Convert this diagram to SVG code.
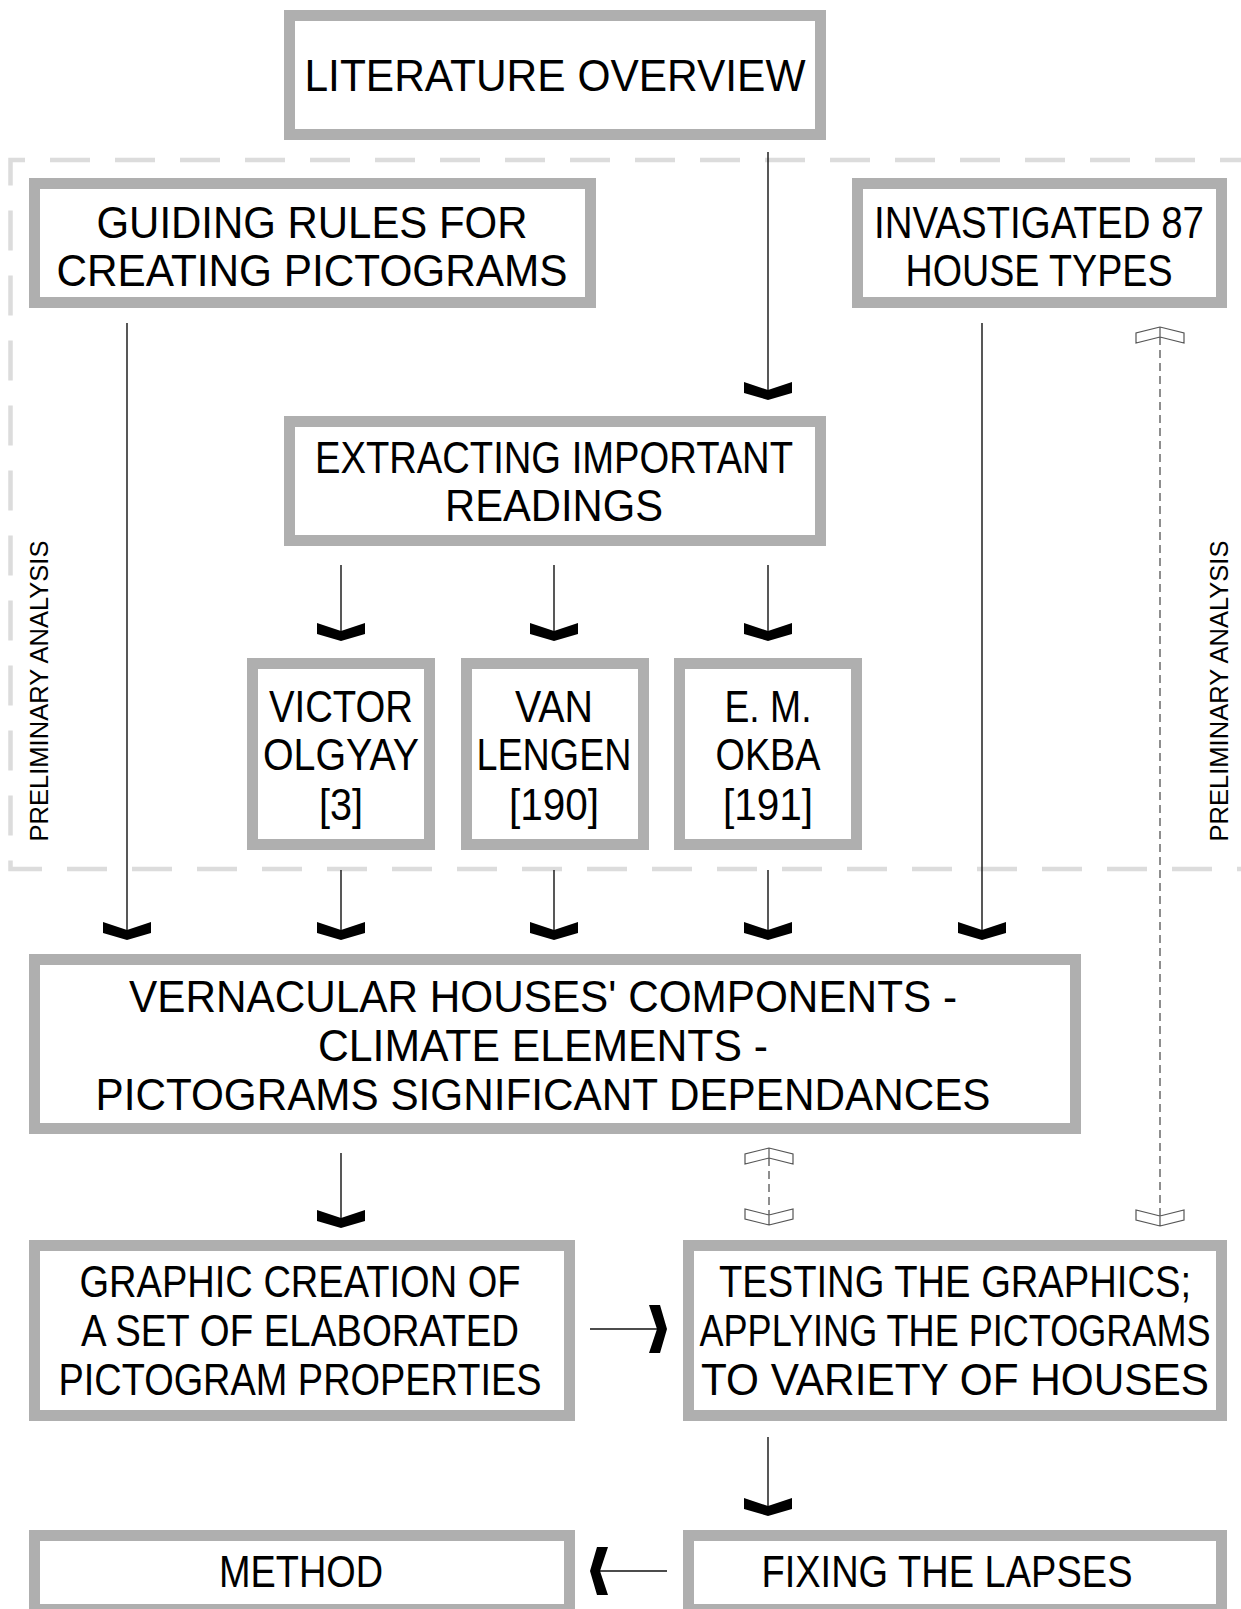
<svg xmlns="http://www.w3.org/2000/svg" width="1241" height="1609" viewBox="0 0 1241 1609">
<style>
.box{fill:#fff;stroke:#afafaf;stroke-width:11}
.t{font-family:"Liberation Sans",Arial,sans-serif;font-size:44px;fill:#000;text-anchor:middle}
.side{font-family:"Liberation Sans",Arial,sans-serif;font-size:25px;fill:#000;text-anchor:middle}
.ln{stroke:#111;stroke-width:1.4;fill:none}
.dl{stroke:#444;stroke-width:1.2;fill:none;stroke-dasharray:8 5}
.ch{fill:#000}
.och{fill:none;stroke:#555;stroke-width:1.2}
</style>
<defs>
<path id="chd" d="M0,0 L-24,-7 L-24,-18 L0,-10 L24,-18 L24,-7 Z"/>
<path id="ocu" d="M0,0 L-24,6 L-24,16 L0,10 L24,16 L24,6 Z M0,0 V10"/>
</defs>
<rect width="1241" height="1609" fill="#fff"/>
<path d="M1260,160 H10.5 V869 H1260" fill="none" stroke="#dcdcdc" stroke-width="4.5" stroke-dasharray="40 25"/>
<text class="side" transform="translate(48,691) rotate(-90)" textLength="301" lengthAdjust="spacingAndGlyphs">PRELIMINARY ANALYSIS</text>
<text class="side" transform="translate(1228,691) rotate(-90)" textLength="301" lengthAdjust="spacingAndGlyphs">PRELIMINARY ANALYSIS</text>

<g id="connectors">
<line class="ln" x1="768" y1="152" x2="768" y2="390"/>
<use href="#chd" class="ch" x="768" y="400"/>
<line class="ln" x1="127" y1="323" x2="127" y2="930"/>
<use href="#chd" class="ch" x="127" y="940"/>
<line class="ln" x1="982" y1="323" x2="982" y2="930"/>
<use href="#chd" class="ch" x="982" y="940"/>
<line class="ln" x1="341" y1="565" x2="341" y2="631"/>
<use href="#chd" class="ch" x="341" y="641"/>
<line class="ln" x1="554" y1="565" x2="554" y2="631"/>
<use href="#chd" class="ch" x="554" y="641"/>
<line class="ln" x1="768" y1="565" x2="768" y2="631"/>
<use href="#chd" class="ch" x="768" y="641"/>
<line class="ln" x1="341" y1="870" x2="341" y2="930"/>
<use href="#chd" class="ch" x="341" y="940"/>
<line class="ln" x1="554" y1="870" x2="554" y2="930"/>
<use href="#chd" class="ch" x="554" y="940"/>
<line class="ln" x1="768" y1="870" x2="768" y2="930"/>
<use href="#chd" class="ch" x="768" y="940"/>
<line class="ln" x1="341" y1="1153" x2="341" y2="1218"/>
<use href="#chd" class="ch" x="341" y="1228"/>
<line class="ln" x1="768" y1="1437" x2="768" y2="1506"/>
<use href="#chd" class="ch" x="768" y="1516"/>
<line class="ln" x1="590" y1="1329" x2="657" y2="1329"/>
<use href="#chd" class="ch" transform="translate(667,1329) rotate(-90)"/>
<line class="ln" x1="600" y1="1571" x2="667" y2="1571"/>
<use href="#chd" class="ch" transform="translate(590,1571) rotate(90)"/>
<line class="dl" x1="769" y1="1158" x2="769" y2="1215"/>
<use href="#ocu" class="och" x="769" y="1148"/>
<use href="#ocu" class="och" transform="translate(769,1225) rotate(180)"/>
<line class="dl" x1="1160" y1="337" x2="1160" y2="1216"/>
<use href="#ocu" class="och" x="1160" y="327"/>
<use href="#ocu" class="och" transform="translate(1160,1226) rotate(180)"/>
</g>

<g id="literature"><rect class="box" x="289.5" y="15.5" width="531" height="119"/><text class="t" x="555" y="91" textLength="501" lengthAdjust="spacingAndGlyphs">LITERATURE OVERVIEW</text></g>
<g id="guiding"><rect class="box" x="34.5" y="183.5" width="556" height="119"/><text class="t" x="312" y="238" textLength="431" lengthAdjust="spacingAndGlyphs">GUIDING RULES FOR</text><text class="t" x="312" y="286" textLength="511" lengthAdjust="spacingAndGlyphs">CREATING PICTOGRAMS</text></g>
<g id="investigated"><rect class="box" x="857.5" y="183.5" width="364" height="119"/><text class="t" x="1039" y="238" textLength="330" lengthAdjust="spacingAndGlyphs">INVASTIGATED 87</text><text class="t" x="1039" y="286" textLength="267" lengthAdjust="spacingAndGlyphs">HOUSE TYPES</text></g>
<g id="extracting"><rect class="box" x="289.5" y="421.5" width="531" height="119"/><text class="t" x="554" y="473" textLength="478" lengthAdjust="spacingAndGlyphs">EXTRACTING IMPORTANT</text><text class="t" x="554" y="521" textLength="218" lengthAdjust="spacingAndGlyphs">READINGS</text></g>
<g id="olgyay"><rect class="box" x="252.5" y="663.5" width="177" height="181"/><text class="t" x="341" y="722" textLength="144" lengthAdjust="spacingAndGlyphs">VICTOR</text><text class="t" x="341" y="770" textLength="156" lengthAdjust="spacingAndGlyphs">OLGYAY</text><text class="t" x="341" y="820" textLength="44" lengthAdjust="spacingAndGlyphs">[3]</text></g>
<g id="lengen"><rect class="box" x="466.5" y="663.5" width="177" height="181"/><text class="t" x="554" y="722" textLength="78" lengthAdjust="spacingAndGlyphs">VAN</text><text class="t" x="554" y="770" textLength="155" lengthAdjust="spacingAndGlyphs">LENGEN</text><text class="t" x="554" y="820" textLength="90" lengthAdjust="spacingAndGlyphs">[190]</text></g>
<g id="okba"><rect class="box" x="679.5" y="663.5" width="177" height="181"/><text class="t" x="768" y="722" textLength="87" lengthAdjust="spacingAndGlyphs">E. M.</text><text class="t" x="768" y="770" textLength="105" lengthAdjust="spacingAndGlyphs">OKBA</text><text class="t" x="768" y="820" textLength="90" lengthAdjust="spacingAndGlyphs">[191]</text></g>
<g id="vernacular"><rect class="box" x="34.5" y="959.5" width="1041" height="169"/><text class="t" x="543" y="1012" textLength="828" lengthAdjust="spacingAndGlyphs">VERNACULAR HOUSES' COMPONENTS -</text><text class="t" x="543" y="1061" textLength="450" lengthAdjust="spacingAndGlyphs">CLIMATE ELEMENTS -</text><text class="t" x="543" y="1110" textLength="895" lengthAdjust="spacingAndGlyphs">PICTOGRAMS SIGNIFICANT DEPENDANCES</text></g>
<g id="graphic"><rect class="box" x="34.5" y="1245.5" width="535" height="170"/><text class="t" x="300" y="1297" textLength="441" lengthAdjust="spacingAndGlyphs">GRAPHIC CREATION OF</text><text class="t" x="300" y="1346" textLength="438" lengthAdjust="spacingAndGlyphs">A SET OF ELABORATED</text><text class="t" x="300" y="1395" textLength="483" lengthAdjust="spacingAndGlyphs">PICTOGRAM PROPERTIES</text></g>
<g id="testing"><rect class="box" x="688.5" y="1245.5" width="533" height="170"/><text class="t" x="955" y="1297" textLength="472" lengthAdjust="spacingAndGlyphs">TESTING THE GRAPHICS;</text><text class="t" x="955" y="1346" textLength="511" lengthAdjust="spacingAndGlyphs">APPLYING THE PICTOGRAMS</text><text class="t" x="955" y="1395" textLength="508" lengthAdjust="spacingAndGlyphs">TO VARIETY OF HOUSES</text></g>
<g id="method"><rect class="box" x="34.5" y="1535.5" width="535" height="74"/><text class="t" x="301" y="1587" textLength="164" lengthAdjust="spacingAndGlyphs">METHOD</text></g>
<g id="fixing"><rect class="box" x="688.5" y="1535.5" width="533" height="74"/><text class="t" x="947" y="1587" textLength="371" lengthAdjust="spacingAndGlyphs">FIXING THE LAPSES</text></g>
</svg>
